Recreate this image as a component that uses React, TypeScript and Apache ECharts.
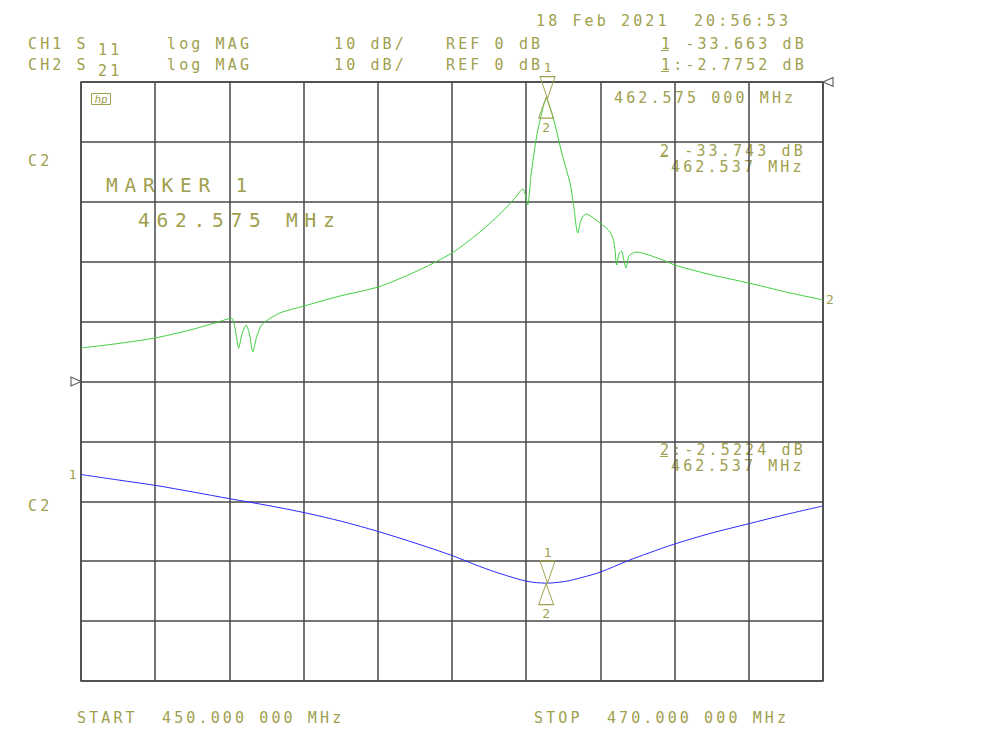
import React, { useEffect, useRef } from "react";
import * as echarts from "echarts";

// ---- data ----
const freqStart = 450;
const freqStop = 470;
const freqStep = 2;

// CH2 S21 (green), ref 0 dB at top, 10 dB/div
const s21Freq = [
  450.0, 451.0, 451.99, 452.94, 453.61, 454.06, 454.15, 454.25, 454.34, 454.45,
  454.54, 454.63, 454.74, 454.85, 454.96, 455.36, 456.01, 456.98, 458.01, 459.0,
  460.0, 460.75, 461.29, 461.7, 461.91, 461.98, 462.04, 462.13, 462.28, 462.46,
  462.55, 462.64, 462.78, 462.96, 463.18, 463.27, 463.39, 463.48, 463.61, 463.99,
  464.26, 464.37, 464.44, 464.5, 464.57, 464.62, 464.69, 464.77, 464.96, 465.61,
  466.04, 467.01, 468.0, 469.0, 470.0,
];
const s21Db = [
  -44.41, -43.66, -42.74, -41.4, -40.23, -39.45, -41.07, -44.41, -42.07, -40.57,
  -42.07, -45.03, -42.4, -40.73, -40.02, -38.56, -37.4, -35.73, -34.22, -31.72,
  -28.55, -25.04, -22.04, -19.37, -17.86, -18.86, -20.53, -15.53, -9.13, -4.12,
  -2.77, -4.17, -7.18, -11.85, -16.86, -20.2, -25.21, -23.04, -22.04, -23.54,
  -25.04, -26.88, -30.55, -28.71, -28.21, -29.38, -31.05, -29.05, -28.38, -29.55,
  -30.63, -32.22, -33.56, -35.06, -36.39,
];

// CH1 S11 (blue), ref 0 dB at centre line, 10 dB/div
const s11Freq = [
  450.0, 451.0, 452.02, 453.02, 454.02, 455.04, 456.04, 457.04, 458.01, 459.0,
  460.0, 460.75, 461.29, 462.01, 462.55, 462.73, 463.09, 463.5, 463.99, 464.71,
  465.34, 465.96, 466.95, 467.99, 469.0, 470.0,
];
const s11Db = [
  -15.53, -16.44, -17.36, -18.45, -19.58, -20.7, -21.92, -23.37, -25.04, -26.96,
  -29.05, -30.88, -32.05, -33.34, -33.66, -33.61, -33.34, -32.72, -31.84, -30.0,
  -28.55, -27.21, -25.38, -23.76, -22.2, -20.78,
];

const marker1Freq = 462.575;
const marker2Freq = 462.537;
const marker1S11 = -33.663;
const marker1S21 = -2.7752;
const marker2S11 = -33.743;
const marker2S21 = -2.5224;

const headerDate = "18 Feb 2021  20:56:53";
const ch1Line = ["CH1 S", "11", "log MAG", "10 dB/", "REF 0 dB", "1 -33.663 dB"];
const ch2Line = ["CH2 S", "21", "log MAG", "10 dB/", "REF 0 dB", "1:-2.7752 dB"];
const markerFreqText = "462.575 000 MHz";
const m2S11Text = ["2 -33.743 dB", "462.537 MHz"];
const m2S21Text = ["2:-2.5224 dB", "462.537 MHz"];
const bigMarkerText = ["MARKER 1", "462.575 MHz"];
const startText = "START  450.000 000 MHz";
const stopText = "STOP  470.000 000 MHz";
const chanLabel = "C2";

// ---- styles ----
const OLIVE = "#a0a04e";
const GRIDC = "#474747";
const GREEN = "#3fd03f";
const BLUE = "#2b2bff";
const MONO = '"DejaVu Sans Mono", monospace';

const txt = (x: number, y: number, text: string, fs = 15) => ({
  type: "text",
  x,
  y,
  silent: true,
  style: {
    text,
    fill: OLIVE,
    fontSize: fs,
    fontFamily: MONO,
    align: "left",
    verticalAlign: "middle",
  },
});
const uline = (x: number, y: number) => ({
  type: "line",
  silent: true,
  shape: { x1: x, y1: y, x2: x + 8, y2: y },
  style: { stroke: OLIVE, lineWidth: 1 },
});

const DOWN_TRI = "path://M0,0L15,0L7.5,22Z";
const UP_TRI = "path://M7.5,0L15,22L0,22Z";
const LEFT_TRI = "path://M0,5L10,0L10,10Z";
const RIGHT_TRI = "path://M10,5L0,0L0,10Z";

const mpLabel = (text: string, pos: string) => ({
  show: true,
  position: pos,
  distance: 2,
  formatter: text,
  color: OLIVE,
  fontSize: 13,
  fontFamily: MONO,
});
const mpStyle = { color: "rgba(0,0,0,0)", borderColor: OLIVE, borderWidth: 1 };
const refStyle = { color: "rgba(0,0,0,0)", borderColor: "#555", borderWidth: 1 };

export default function App() {
  const ref = useRef<HTMLDivElement>(null);

  useEffect(() => {
    document.body.style.margin = "0";
    const el = ref.current!;
    const chart = echarts.init(el, undefined, { renderer: "svg" });

    const option: any = {
      animation: false,
      backgroundColor: "#ffffff",
      grid: {
        left: 81,
        top: 82,
        width: 742,
        height: 599,
        show: true,
        borderColor: GRIDC,
        borderWidth: 1.5,
        backgroundColor: "transparent",
      },
      xAxis: {
        type: "value",
        min: freqStart,
        max: freqStop,
        interval: freqStep,
        axisLabel: { show: false },
        axisTick: { show: false },
        axisLine: { show: false },
        splitLine: { show: true, lineStyle: { color: GRIDC, width: 1.5 } },
      },
      yAxis: [
        {
          type: "value",
          min: -100,
          max: 0,
          interval: 10,
          axisLabel: { show: false },
          axisTick: { show: false },
          axisLine: { show: false },
          splitLine: { show: true, lineStyle: { color: GRIDC, width: 1.5 } },
        },
        {
          type: "value",
          min: -50,
          max: 50,
          interval: 10,
          position: "left",
          axisLabel: { show: false },
          axisTick: { show: false },
          axisLine: { show: false },
          splitLine: { show: false },
        },
      ],
      series: [
        {
          type: "line",
          name: "S21",
          yAxisIndex: 0,
          data: s21Freq.map((f, i) => [f, s21Db[i]]),
          showSymbol: false,
          smooth: 0.25,
          silent: true,
          lineStyle: { color: GREEN, width: 1 },
          endLabel: {
            show: true,
            formatter: "2",
            color: OLIVE,
            fontSize: 13,
            fontFamily: MONO,
            distance: 3,
          },
          markPoint: {
            silent: true,
            data: [
              {
                coord: [marker1Freq, marker1S21],
                symbol: DOWN_TRI,
                symbolSize: [15, 22],
                symbolOffset: [0, "-50%"],
                itemStyle: mpStyle,
                label: mpLabel("1", "top"),
              },
              {
                coord: [marker2Freq, marker2S21],
                symbol: UP_TRI,
                symbolSize: [15, 21],
                symbolOffset: [0, "50%"],
                itemStyle: mpStyle,
                label: mpLabel("2", "bottom"),
              },
              {
                coord: [freqStop, 0],
                symbol: LEFT_TRI,
                symbolSize: [10, 9],
                symbolOffset: ["50%", 0],
                itemStyle: refStyle,
                label: { show: false },
              },
            ],
          },
        },
        {
          type: "line",
          name: "S11",
          yAxisIndex: 1,
          data: s11Freq.map((f, i) => [f, s11Db[i]]),
          showSymbol: false,
          smooth: 0.3,
          silent: true,
          lineStyle: { color: BLUE, width: 1 },
          markPoint: {
            silent: true,
            data: [
              {
                coord: [marker1Freq, marker1S11],
                symbol: DOWN_TRI,
                symbolSize: [15, 22],
                symbolOffset: [0, "-50%"],
                itemStyle: mpStyle,
                label: mpLabel("1", "top"),
              },
              {
                coord: [marker2Freq, marker2S11],
                symbol: UP_TRI,
                symbolSize: [15, 21],
                symbolOffset: [0, "50%"],
                itemStyle: mpStyle,
                label: mpLabel("2", "bottom"),
              },
              {
                coord: [freqStart, 0],
                symbol: RIGHT_TRI,
                symbolSize: [10, 9],
                symbolOffset: ["-50%", 0],
                itemStyle: refStyle,
                label: { show: false },
              },
              {
                coord: [s11Freq[0], s11Db[0]],
                symbol: "circle",
                symbolSize: 1,
                itemStyle: { color: "rgba(0,0,0,0)" },
                label: { ...mpLabel("1", "left"), distance: 4 },
              },
            ],
          },
        },
      ],
      graphic: [
        txt(536, 21, headerDate),
        txt(28, 44, ch1Line[0]),
        txt(98, 50, ch1Line[1]),
        txt(167, 44, ch1Line[2]),
        txt(334, 44, ch1Line[3]),
        txt(446, 44, ch1Line[4]),
        txt(661, 44, ch1Line[5]),
        uline(661, 50.5),
        txt(28, 65, ch2Line[0]),
        txt(98, 71, ch2Line[1]),
        txt(167, 65, ch2Line[2]),
        txt(334, 65, ch2Line[3]),
        txt(446, 65, ch2Line[4]),
        txt(661, 65, ch2Line[5]),
        uline(661, 71.5),
        txt(614, 98, markerFreqText),
        txt(660, 150.5, m2S11Text[0]),
        uline(660, 156.5),
        txt(671, 166.5, m2S11Text[1]),
        txt(660, 450, m2S21Text[0]),
        uline(660, 456.5),
        txt(671, 466, m2S21Text[1]),
        txt(28, 161, chanLabel),
        txt(28, 506, chanLabel),
        txt(106, 185, bigMarkerText[0], 19.5),
        txt(138, 220, bigMarkerText[1], 19.5),
        txt(77, 718, startText),
        txt(534, 718, stopText),
        {
          type: "rect",
          silent: true,
          shape: { x: 91.5, y: 93.5, width: 19, height: 11 },
          style: { fill: "none", stroke: OLIVE, lineWidth: 1 },
        },
        {
          type: "text",
          silent: true,
          x: 101,
          y: 99,
          style: {
            text: "hp",
            fill: OLIVE,
            fontSize: 11,
            fontStyle: "italic",
            fontFamily: MONO,
            align: "center",
            verticalAlign: "middle",
          },
        },
      ],
    };

    chart.setOption(option);

    const fix = () => {
      el.querySelectorAll("text").forEach((t) => {
        const s = t.textContent || "";
        (t as SVGTextElement).style.whiteSpace = "pre";
        if (s.length < 2) return;
        const fs = parseFloat(getComputedStyle(t).fontSize || "0");
        if (!fs || fs < 13) return;
        const pitch = fs > 17 ? 18.5 : 12.15;
        (t as SVGTextElement).style.letterSpacing = (pitch - fs * 0.602).toFixed(2) + "px";
      });
    };
    fix();
    chart.on("finished", fix);
    const raf = requestAnimationFrame(fix);

    return () => {
      cancelAnimationFrame(raf);
      chart.dispose();
    };
  }, []);

  return <div ref={ref} style={{ width: 1000, height: 750 }} />;
}
